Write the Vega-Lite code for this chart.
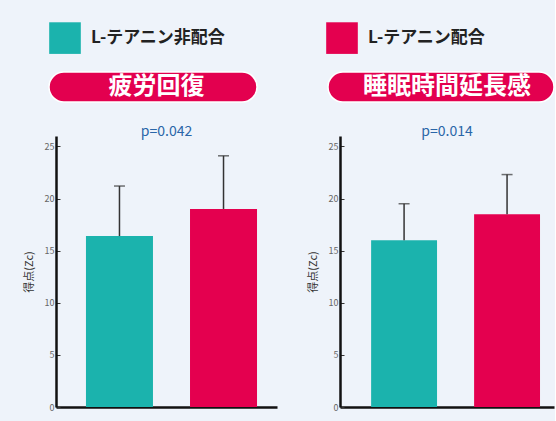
{
  "$schema": "https://vega.github.io/schema/vega-lite/v6.json",
  "background": "#eef3fa",
  "padding": {"left": 23, "top": 22, "right": 0, "bottom": 9},
  "config": {
    "font": "Noto Sans CJK JP",
    "view": {"stroke": null},
    "axisY": {
      "grid": false,
      "domainColor": "#111",
      "domainWidth": 2.5,
      "tickColor": "#333",
      "tickSize": -4,
      "labelColor": "#666",
      "labelFontSize": 9,
      "labelPadding": 6,
      "titleColor": "#333",
      "titleFontSize": 11,
      "titleFontWeight": "normal",
      "titlePadding": 10
    }
  },
  "datasets": {
    "bars": [
      {"measure": "疲労回復", "group": "L-テアニン非配合", "mean": 16.4, "upper": 21.2},
      {"measure": "疲労回復", "group": "L-テアニン配合", "mean": 19.0, "upper": 24.1},
      {"measure": "睡眠時間延長感", "group": "L-テアニン非配合", "mean": 16.0, "upper": 19.5},
      {"measure": "睡眠時間延長感", "group": "L-テアニン配合", "mean": 18.5, "upper": 22.3}
    ],
    "pills": [{"measure": "疲労回復"}, {"measure": "睡眠時間延長感"}]
  },
  "spacing": 30,
  "hconcat": [
    {
      "spacing": 22,
      "vconcat": [
        {
          "data": {"name": "pills"},
          "transform": [{"filter": "datum.measure === '疲労回復'"}],
          "width": 201,
          "height": 30,
          "layer": [
            {"mark": {"type": "bar", "cornerRadius": 15, "color": "#e3004f", "stroke": "#ffffff", "strokeWidth": 1.5},
             "encoding": {"x": {"value": -7}, "x2": {"value": "width"}, "y": {"value": 0}, "y2": {"value": "height"}}},
            {"mark": {"type": "text", "color": "#ffffff", "fontSize": 24, "fontWeight": "bold"},
             "encoding": {"text": {"field": "measure"}}}
          ]
        },
        {
          "data": {"name": "bars"},
          "transform": [{"filter": "datum.measure === '疲労回復'"}],
          "width": 221,
          "height": 271,
          "title": {"text": "p=0.042", "color": "#2a66a8", "fontSize": 14, "fontWeight": "normal", "offset": -3},
          "encoding": {
            "x": {"field": "group", "type": "nominal", "sort": ["L-テアニン非配合", "L-テアニン配合"],
                  "scale": {"paddingInner": 0.356, "paddingOuter": 0.24, "align": 0.6},
                  "axis": {"title": null, "labels": false, "ticks": false, "domainColor": "#111", "domainWidth": 2.5}}
          },
          "layer": [
            {"mark": {"type": "bar"},
             "encoding": {
               "y": {"field": "mean", "type": "quantitative", "scale": {"domain": [0, 25]},
                     "axis": {"values": [0, 5, 10, 15, 20, 25], "title": "得点(Zc)"}},
               "color": {"field": "group", "type": "nominal",
                         "scale": {"domain": ["L-テアニン非配合", "L-テアニン配合"], "range": ["#1bb3ad", "#e4004f"]},
                         "legend": {"title": null, "orient": "none", "legendX": -7, "legendY": -50, "direction": "horizontal", "symbolType": "square",
                                    "symbolSize": 1000, "symbolStrokeWidth": 0, "labelFontSize": 17, "labelFontWeight": "bold",
                                    "labelColor": "#222", "labelOffset": 10, "columnPadding": 100}}
             }},
            {"mark": {"type": "rule", "color": "#333", "strokeWidth": 1.5},
             "encoding": {"y": {"field": "mean", "type": "quantitative"}, "y2": {"field": "upper"}}},
            {"mark": {"type": "tick", "color": "#333", "thickness": 1.5, "size": 11, "orient": "horizontal"},
             "encoding": {"y": {"field": "upper", "type": "quantitative"}}}
          ]
        }
      ]
    },
    {
      "spacing": 22,
      "vconcat": [
        {
          "data": {"name": "pills"},
          "transform": [{"filter": "datum.measure === '睡眠時間延長感'"}],
          "width": 214,
          "height": 30,
          "layer": [
            {"mark": {"type": "bar", "cornerRadius": 15, "color": "#e3004f", "stroke": "#ffffff", "strokeWidth": 1.5},
             "encoding": {"x": {"value": -12}, "x2": {"value": "width"}, "y": {"value": 0}, "y2": {"value": "height"}}},
            {"mark": {"type": "text", "color": "#ffffff", "fontSize": 24, "fontWeight": "bold"},
             "encoding": {"text": {"field": "measure"}}}
          ]
        },
        {
          "data": {"name": "bars"},
          "transform": [{"filter": "datum.measure === '睡眠時間延長感'"}],
          "width": 214,
          "height": 271,
          "title": {"text": "p=0.014", "color": "#2a66a8", "fontSize": 14, "fontWeight": "normal", "offset": -3},
          "encoding": {
            "x": {"field": "group", "type": "nominal", "sort": ["L-テアニン非配合", "L-テアニン配合"],
                  "scale": {"paddingInner": 0.36, "paddingOuter": 0.219, "align": 0.69},
                  "axis": {"title": null, "labels": false, "ticks": false, "domainColor": "#111", "domainWidth": 2.5}}
          },
          "layer": [
            {"mark": {"type": "bar"},
             "encoding": {
               "y": {"field": "mean", "type": "quantitative", "scale": {"domain": [0, 25]},
                     "axis": {"values": [0, 5, 10, 15, 20, 25], "title": "得点(Zc)"}},
               "color": {"field": "group", "type": "nominal",
                         "scale": {"domain": ["L-テアニン非配合", "L-テアニン配合"], "range": ["#1bb3ad", "#e4004f"]}}
             }},
            {"mark": {"type": "rule", "color": "#333", "strokeWidth": 1.5},
             "encoding": {"y": {"field": "mean", "type": "quantitative"}, "y2": {"field": "upper"}}},
            {"mark": {"type": "tick", "color": "#333", "thickness": 1.5, "size": 11, "orient": "horizontal"},
             "encoding": {"y": {"field": "upper", "type": "quantitative"}}}
          ]
        }
      ]
    }
  ]
}
